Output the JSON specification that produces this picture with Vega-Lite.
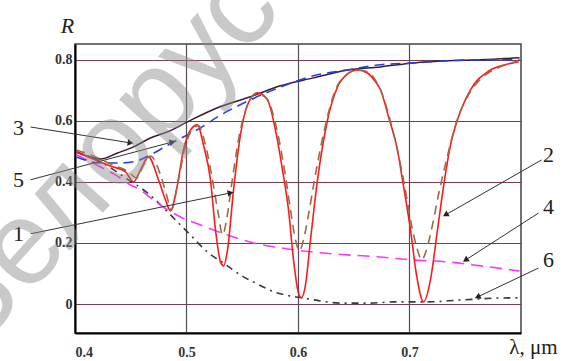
{
  "$schema": "https://vega.github.io/schema/vega-lite/v6.json",
  "width": 446,
  "height": 289,
  "autosize": {"type": "none"},
  "padding": {"left": 75, "top": 44, "right": 42, "bottom": 28},
  "background": "white",
  "config": {
    "view": {"stroke": "#444444", "strokeWidth": 1.5},
    "axis": {"labelFont": "Liberation Serif", "titleFont": "Liberation Serif"}
  },
  "datasets": {
    "c1": [
      {"l": 0.4013, "R": 0.498}, {"l": 0.4184, "R": 0.472}, {"l": 0.4318, "R": 0.452}, {"l": 0.4453, "R": 0.433},
      {"l": 0.4525, "R": 0.400}, {"l": 0.4587, "R": 0.439}, {"l": 0.4659, "R": 0.482}, {"l": 0.4749, "R": 0.407},
      {"l": 0.4812, "R": 0.341}, {"l": 0.4857, "R": 0.305}, {"l": 0.4910, "R": 0.374}, {"l": 0.4973, "R": 0.505},
      {"l": 0.5036, "R": 0.570}, {"l": 0.5099, "R": 0.587}, {"l": 0.5152, "R": 0.521}, {"l": 0.5215, "R": 0.407},
      {"l": 0.5260, "R": 0.243}, {"l": 0.5305, "R": 0.138}, {"l": 0.5332, "R": 0.125}, {"l": 0.5368, "R": 0.177},
      {"l": 0.5422, "R": 0.374}, {"l": 0.5484, "R": 0.554}, {"l": 0.5547, "R": 0.652}, {"l": 0.5637, "R": 0.692},
      {"l": 0.5726, "R": 0.669}, {"l": 0.5798, "R": 0.570}, {"l": 0.5861, "R": 0.439}, {"l": 0.5915, "R": 0.308},
      {"l": 0.5960, "R": 0.144}, {"l": 0.6004, "R": 0.036}, {"l": 0.6031, "R": 0.020}, {"l": 0.6067, "R": 0.062},
      {"l": 0.6112, "R": 0.210}, {"l": 0.6175, "R": 0.407}, {"l": 0.6265, "R": 0.603}, {"l": 0.6354, "R": 0.711},
      {"l": 0.6444, "R": 0.754}, {"l": 0.6534, "R": 0.767}, {"l": 0.6623, "R": 0.757}, {"l": 0.6695, "R": 0.728},
      {"l": 0.6740, "R": 0.702}, {"l": 0.6812, "R": 0.613}, {"l": 0.6892, "R": 0.505}, {"l": 0.6937, "R": 0.407},
      {"l": 0.7009, "R": 0.243}, {"l": 0.7063, "R": 0.095}, {"l": 0.7126, "R": 0.007}, {"l": 0.7188, "R": 0.079},
      {"l": 0.7251, "R": 0.243}, {"l": 0.7314, "R": 0.407}, {"l": 0.7368, "R": 0.521}, {"l": 0.7430, "R": 0.603},
      {"l": 0.7547, "R": 0.702}, {"l": 0.7700, "R": 0.761}, {"l": 0.7816, "R": 0.780}, {"l": 0.7978, "R": 0.793}
    ],
    "c2": [
      {"l": 0.4013, "R": 0.505}, {"l": 0.4184, "R": 0.482}, {"l": 0.4336, "R": 0.456}, {"l": 0.4480, "R": 0.433},
      {"l": 0.4552, "R": 0.413}, {"l": 0.4614, "R": 0.456}, {"l": 0.4677, "R": 0.485}, {"l": 0.4767, "R": 0.423},
      {"l": 0.4821, "R": 0.357}, {"l": 0.4865, "R": 0.308}, {"l": 0.4919, "R": 0.390}, {"l": 0.4982, "R": 0.505},
      {"l": 0.5045, "R": 0.570}, {"l": 0.5108, "R": 0.584}, {"l": 0.5170, "R": 0.521}, {"l": 0.5233, "R": 0.407},
      {"l": 0.5287, "R": 0.292}, {"l": 0.5323, "R": 0.226}, {"l": 0.5359, "R": 0.275}, {"l": 0.5404, "R": 0.390},
      {"l": 0.5466, "R": 0.538}, {"l": 0.5538, "R": 0.643}, {"l": 0.5628, "R": 0.689}, {"l": 0.5717, "R": 0.675},
      {"l": 0.5807, "R": 0.577}, {"l": 0.5879, "R": 0.439}, {"l": 0.5933, "R": 0.308}, {"l": 0.5978, "R": 0.210},
      {"l": 0.6013, "R": 0.174}, {"l": 0.6049, "R": 0.210}, {"l": 0.6094, "R": 0.292}, {"l": 0.6148, "R": 0.407},
      {"l": 0.6247, "R": 0.587}, {"l": 0.6336, "R": 0.702}, {"l": 0.6435, "R": 0.751}, {"l": 0.6525, "R": 0.767},
      {"l": 0.6623, "R": 0.761}, {"l": 0.6704, "R": 0.728}, {"l": 0.6758, "R": 0.685}, {"l": 0.6830, "R": 0.597},
      {"l": 0.6901, "R": 0.489}, {"l": 0.6955, "R": 0.390}, {"l": 0.7018, "R": 0.259}, {"l": 0.7072, "R": 0.177},
      {"l": 0.7108, "R": 0.144}, {"l": 0.7152, "R": 0.177}, {"l": 0.7206, "R": 0.259}, {"l": 0.7269, "R": 0.374},
      {"l": 0.7332, "R": 0.472}, {"l": 0.7413, "R": 0.587}, {"l": 0.7529, "R": 0.685}, {"l": 0.7682, "R": 0.751},
      {"l": 0.7816, "R": 0.777}, {"l": 0.7978, "R": 0.797}
    ],
    "c3": [
      {"l": 0.4013, "R": 0.498}, {"l": 0.4229, "R": 0.475}, {"l": 0.4381, "R": 0.495}, {"l": 0.4525, "R": 0.515},
      {"l": 0.4677, "R": 0.544}, {"l": 0.4830, "R": 0.564}, {"l": 0.5009, "R": 0.597}, {"l": 0.5278, "R": 0.643},
      {"l": 0.5574, "R": 0.679}, {"l": 0.5843, "R": 0.715}, {"l": 0.6139, "R": 0.741}, {"l": 0.6444, "R": 0.767},
      {"l": 0.6740, "R": 0.777}, {"l": 0.7036, "R": 0.790}, {"l": 0.7341, "R": 0.797}, {"l": 0.7637, "R": 0.800},
      {"l": 0.7987, "R": 0.807}
    ],
    "c5": [
      {"l": 0.4013, "R": 0.482}, {"l": 0.4229, "R": 0.462}, {"l": 0.4381, "R": 0.462}, {"l": 0.4525, "R": 0.466},
      {"l": 0.4677, "R": 0.489}, {"l": 0.4883, "R": 0.531}, {"l": 0.5126, "R": 0.577}, {"l": 0.5278, "R": 0.613},
      {"l": 0.5574, "R": 0.669}, {"l": 0.5843, "R": 0.711}, {"l": 0.6139, "R": 0.748}, {"l": 0.6444, "R": 0.767},
      {"l": 0.6740, "R": 0.784}, {"l": 0.7036, "R": 0.790}, {"l": 0.7341, "R": 0.797}, {"l": 0.7637, "R": 0.800},
      {"l": 0.7987, "R": 0.800}
    ],
    "c4": [
      {"l": 0.4013, "R": 0.489}, {"l": 0.4229, "R": 0.449}, {"l": 0.4363, "R": 0.423}, {"l": 0.4498, "R": 0.390},
      {"l": 0.4587, "R": 0.374}, {"l": 0.4677, "R": 0.348}, {"l": 0.4740, "R": 0.331}, {"l": 0.4946, "R": 0.285},
      {"l": 0.5126, "R": 0.259}, {"l": 0.5368, "R": 0.226}, {"l": 0.5601, "R": 0.200}, {"l": 0.5843, "R": 0.184},
      {"l": 0.6139, "R": 0.170}, {"l": 0.6444, "R": 0.161}, {"l": 0.6740, "R": 0.154}, {"l": 0.7036, "R": 0.144},
      {"l": 0.7341, "R": 0.138}, {"l": 0.7574, "R": 0.128}, {"l": 0.7987, "R": 0.108}
    ],
    "c6": [
      {"l": 0.4013, "R": 0.498}, {"l": 0.4229, "R": 0.466}, {"l": 0.4453, "R": 0.413}, {"l": 0.4650, "R": 0.364},
      {"l": 0.4857, "R": 0.292}, {"l": 0.4946, "R": 0.259}, {"l": 0.5036, "R": 0.226}, {"l": 0.5188, "R": 0.170},
      {"l": 0.5332, "R": 0.134}, {"l": 0.5511, "R": 0.089}, {"l": 0.5601, "R": 0.072}, {"l": 0.5816, "R": 0.036},
      {"l": 0.5933, "R": 0.026}, {"l": 0.6040, "R": 0.020}, {"l": 0.6202, "R": 0.010}, {"l": 0.6381, "R": 0.003},
      {"l": 0.6650, "R": 0.003}, {"l": 0.6856, "R": 0.007}, {"l": 0.7161, "R": 0.007}, {"l": 0.7457, "R": 0.013},
      {"l": 0.7879, "R": 0.020}, {"l": 0.7987, "R": 0.020}
    ],
    "arrows": [
      {"label": "3", "lx": 0.3493, "ly": 0.577, "x": 0.3601, "y": 0.580, "x2": 0.4498, "y2": 0.528, "dir": 9},
      {"label": "5", "lx": 0.3493, "ly": 0.407, "x": 0.3601, "y": 0.407, "x2": 0.4874, "y2": 0.531, "dir": 345},
      {"label": "1", "lx": 0.3493, "ly": 0.230, "x": 0.3601, "y": 0.230, "x2": 0.5395, "y2": 0.364, "dir": 348},
      {"label": "2", "lx": 0.8247, "ly": 0.489, "x": 0.8184, "y": 0.472, "x2": 0.7323, "y2": 0.292, "dir": 150},
      {"label": "4", "lx": 0.8247, "ly": 0.318, "x": 0.8157, "y": 0.298, "x2": 0.7502, "y2": 0.144, "dir": 147},
      {"label": "6", "lx": 0.8247, "ly": 0.144, "x": 0.8157, "y": 0.118, "x2": 0.7610, "y2": 0.023, "dir": 155}
    ],
    "wm": [
      {"text": "Белорусский государственный университет", "l": 0.3094, "R": -0.170}
    ]
  },
  "layer": [
    {
      "data": {"name": "c6"},
      "mark": {"type": "line", "color": "#3a3a3a", "strokeWidth": 1.6, "strokeDash": [7, 5, 2, 5], "interpolate": "monotone"},
      "encoding": {
        "x": {"field": "l", "type": "quantitative", "scale": {"domain": [0.4, 0.8], "nice": false, "zero": false},
          "axis": {"values": [0.4, 0.5, 0.6, 0.7], "format": ".1f", "grid": true, "gridColor": "#5a4a5a", "gridWidth": 1.2,
            "ticks": false, "domainColor": "#000000", "domainWidth": 2, "labelFontSize": 14, "labelFontWeight": "bold",
            "labelColor": "#333333", "labelDx": 5, "labelPadding": 19, "labelBaseline": "middle",
            "title": "λ, μm", "titleFontSize": 21, "titleFontWeight": "normal", "titleColor": "#222222",
            "titleX": 458, "titleY": 14, "titleAlign": "center", "titleBaseline": "middle"}},
        "y": {"field": "R", "type": "quantitative", "scale": {"domain": [-0.095, 0.852], "nice": false, "zero": false},
          "axis": {"values": [0, 0.2, 0.4, 0.6, 0.8], "format": "~g", "grid": true, "gridColor": "#7a3b50", "gridWidth": 1.2,
            "ticks": false, "domainColor": "#000000", "domainWidth": 2, "labelFontSize": 14, "labelFontWeight": "bold",
            "labelColor": "#333333", "labelPadding": 3,
            "title": "R", "titleFontSize": 22, "titleFontStyle": "italic", "titleFontWeight": "normal", "titleColor": "#222222",
            "titleAngle": 0, "titleX": -8, "titleY": -19, "titleAlign": "center", "titleBaseline": "middle"}}
      }
    },
    {
      "data": {"name": "c4"},
      "mark": {"type": "line", "color": "#ff33ff", "strokeWidth": 1.6, "strokeDash": [12, 7], "interpolate": "monotone"},
      "encoding": {"x": {"field": "l", "type": "quantitative"}, "y": {"field": "R", "type": "quantitative"}}
    },
    {
      "data": {"name": "c3"},
      "mark": {"type": "line", "color": "#3d1a35", "strokeWidth": 1.5, "interpolate": "monotone"},
      "encoding": {"x": {"field": "l", "type": "quantitative"}, "y": {"field": "R", "type": "quantitative"}}
    },
    {
      "data": {"name": "c5"},
      "mark": {"type": "line", "color": "#2040e0", "strokeWidth": 1.6, "strokeDash": [10, 6], "interpolate": "monotone"},
      "encoding": {"x": {"field": "l", "type": "quantitative"}, "y": {"field": "R", "type": "quantitative"}}
    },
    {
      "data": {"name": "c1"},
      "mark": {"type": "line", "color": "#ff1a1a", "strokeWidth": 1.6, "interpolate": "monotone"},
      "encoding": {"x": {"field": "l", "type": "quantitative"}, "y": {"field": "R", "type": "quantitative"}}
    },
    {
      "data": {"name": "c2"},
      "mark": {"type": "line", "color": "#9b6b43", "strokeWidth": 1.6, "strokeDash": [9, 6], "interpolate": "monotone"},
      "encoding": {"x": {"field": "l", "type": "quantitative"}, "y": {"field": "R", "type": "quantitative"}}
    },
    {
      "data": {"name": "arrows"},
      "mark": {"type": "rule", "color": "#333333", "strokeWidth": 1},
      "encoding": {
        "x": {"field": "x", "type": "quantitative"}, "y": {"field": "y", "type": "quantitative"},
        "x2": {"field": "x2"}, "y2": {"field": "y2"}
      }
    },
    {
      "data": {"name": "arrows"},
      "mark": {"type": "point", "shape": "triangle-right", "filled": true, "color": "#222222", "size": 45, "opacity": 1},
      "encoding": {
        "x": {"field": "x2", "type": "quantitative"}, "y": {"field": "y2", "type": "quantitative"},
        "angle": {"field": "dir", "type": "quantitative", "scale": null}
      }
    },
    {
      "data": {"name": "arrows"},
      "mark": {"type": "text", "font": "Liberation Serif", "fontSize": 22, "color": "#222222", "align": "center", "baseline": "middle"},
      "encoding": {
        "x": {"field": "lx", "type": "quantitative"}, "y": {"field": "ly", "type": "quantitative"},
        "text": {"field": "label"}
      }
    },
    {
      "data": {"name": "wm"},
      "mark": {"type": "text", "font": "Liberation Sans", "fontSize": 120, "color": "#8a8a8a", "opacity": 0.45,
        "angle": 312, "align": "left", "baseline": "alphabetic"},
      "encoding": {
        "x": {"field": "l", "type": "quantitative"}, "y": {"field": "R", "type": "quantitative"},
        "text": {"field": "text"}
      }
    }
  ]
}
